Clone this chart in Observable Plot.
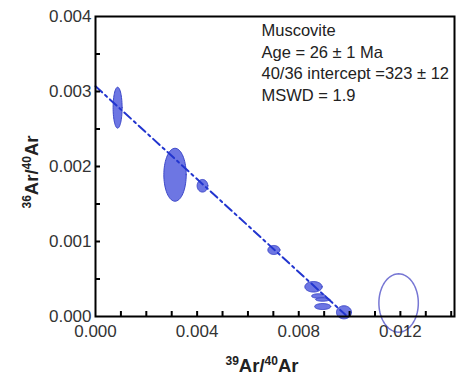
<!DOCTYPE html>
<html>
<head>
<meta charset="utf-8">
<script src="https://cdn.jsdelivr.net/npm/d3@7"></script>
<script src="https://cdn.jsdelivr.net/npm/@observablehq/plot@0.6"></script>
<style>
  html, body { margin: 0; padding: 0; background: #fff; }
  #chart svg { display: block; }
</style>
</head>
<body>
<div id="chart"></div>
<script>
// Filled error ellipses (39Ar/40Ar, 36Ar/40Ar, semi-axes)
const ellCx = [0.00087, 0.00313, 0.00421, 0.00702, 0.00858, 0.00878, 0.00894, 0.00894, 0.00978];
const ellCy = [0.002784, 0.00189, 0.001743, 0.000887, 0.000396, 0.000273, 0.000227, 0.000133, 0.000056];
const ellRx = [0.000177, 0.00044, 0.00021, 0.000236, 0.00034, 0.000276, 0.000276, 0.000315, 0.000295];
const ellRy = [0.000273, 0.000353, 0.000084, 0.00006, 0.00007, 0.00003, 0.000023, 0.00004, 0.000087];
// Excluded (open) ellipse
const openCx = [0.01193];
const openCy = [0.00018];
const openRx = [0.000776];
const openRy = [0.000389];
// Isochron regression line end points
const lineX = [0, 0.00985];
const lineY = [0.00307, 0.00002];
// Ticks
const xTickLabels = [0, 0.004, 0.008, 0.012];
const xMinorTicks = [0.001, 0.002, 0.003, 0.004, 0.005, 0.006, 0.007, 0.008, 0.009, 0.010, 0.011, 0.012, 0.013, 0.014];
const yTickLabels = [0, 0.001, 0.002, 0.003, 0.004];
const yMinorTicks = [0.0005, 0.001, 0.0015, 0.002, 0.0025, 0.003, 0.0035];
const annotation = ["Muscovite", "Age = 26 \u00b1 1 Ma", "40/36 intercept =323 \u00b1 12", "MSWD = 1.9"];

function ellipsePoints(cx, cy, rx, ry) {
  const pts = [];
  cx.forEach((c, i) => {
    for (let k = 0; k <= 72; k++) {
      const t = (k / 72) * 2 * Math.PI;
      pts.push({id: i, x: c + rx[i] * Math.cos(t), y: cy[i] + ry[i] * Math.sin(t)});
    }
  });
  return pts;
}
const filled = ellipsePoints(ellCx, ellCy, ellRx, ellRy);
const open = ellipsePoints(openCx, openCy, openRx, openRy);
const regression = lineX.map((x, i) => ({x, y: lineY[i]}));

const font = "Liberation Sans, Arial, sans-serif";
const W = 459, H = 383, mL = 95, mR = 5, mT = 16, mB = 67;
const chart = Plot.plot({
  width: W,
  height: H,
  marginLeft: mL,
  marginRight: mR,
  marginTop: mT,
  marginBottom: mB,
  style: {fontFamily: font, fontSize: "17px", color: "#333", background: "#fff"},
  x: {domain: [0, 0.01413]},
  y: {domain: [0, 0.004]},
  marks: [
    Plot.line(filled, {x: "x", y: "y", z: "id", fill: "#6d76e3", stroke: "#3c47c9", strokeWidth: 1, curve: "linear-closed"}),
    Plot.line(regression, {x: "x", y: "y", stroke: "#2235cf", strokeWidth: 2, strokeDasharray: "9,4,2.5,4"}),
    Plot.line(open, {x: "x", y: "y", z: "id", fill: "none", stroke: "#7777d4", strokeWidth: 1.5, curve: "linear-closed"}),
    Plot.tickX(xMinorTicks, {x: d => d, insetTop: 295, stroke: "#000", strokeWidth: 2}),
    Plot.tickY(yMinorTicks, {y: d => d, insetRight: 354, stroke: "#000", strokeWidth: 2}),
    Plot.axisX({ticks: xTickLabels, tickSize: 0, tickPadding: 8, tickFormat: d3.format(".3f"), label: null, fill: "#333", fontSize: 17}),
    Plot.axisY({ticks: yTickLabels, tickSize: 0, tickPadding: 4, tickFormat: d3.format(".3f"), label: null, fill: "#333", fontSize: 17}),
    Plot.frame({stroke: "#000", strokeWidth: 2}),
    Plot.text([annotation.join("\n")], {frameAnchor: "top-left", dx: 166, dy: 4, lineHeight: 1.315, textAnchor: "start", fill: "#222", fontSize: 16.5})
  ]
});

const svg = d3.select(chart);
// x-axis title
const xt = svg.append("text")
  .attr("x", 262).attr("y", 372)
  .attr("text-anchor", "middle")
  .attr("font-family", font).attr("font-weight", "bold").attr("font-size", 18.5).attr("fill", "#222");
xt.append("tspan").attr("font-size", 12).attr("dy", -7).text("39");
xt.append("tspan").attr("dy", 7).text("Ar/");
xt.append("tspan").attr("font-size", 12).attr("dy", -7).text("40");
xt.append("tspan").attr("dy", 7).text("Ar");
// y-axis title
const yt = svg.append("text")
  .attr("transform", "translate(38,172) rotate(-90)")
  .attr("text-anchor", "middle")
  .attr("font-family", font).attr("font-weight", "bold").attr("font-size", 18.5).attr("fill", "#222");
yt.append("tspan").attr("font-size", 12).attr("dy", -7).text("36");
yt.append("tspan").attr("dy", 7).text("Ar/");
yt.append("tspan").attr("font-size", 12).attr("dy", -7).text("40");
yt.append("tspan").attr("dy", 7).text("Ar");

document.getElementById("chart").append(chart);
</script>
</body>
</html>
